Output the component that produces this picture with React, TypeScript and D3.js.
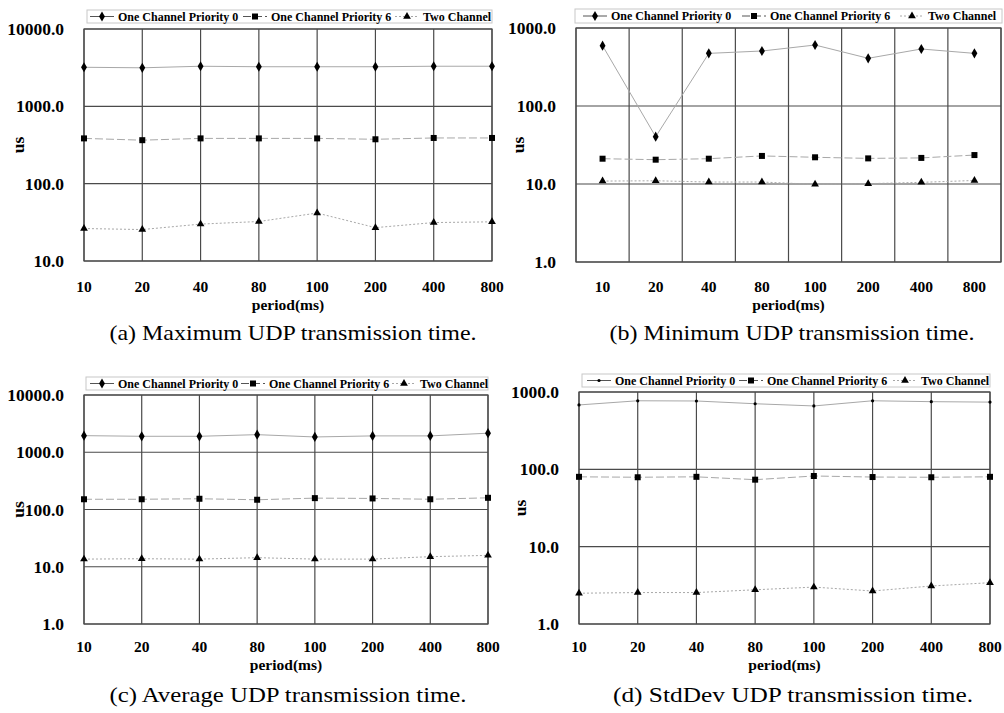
import React from 'react';
import * as d3 from 'd3';

// x categories (period in ms)
const periods = ['10', '20', '40', '80', '100', '200', '400', '800'];
const seriesNames = ['One Channel Priority 0', 'One Channel Priority 6', 'Two Channel'];

// (a) maximum
const maxP0 = [3200, 3150, 3300, 3250, 3250, 3250, 3300, 3300];
const maxP6 = [385, 365, 385, 385, 385, 375, 390, 390];
const maxTwo = [26.3, 25.5, 30, 32.4, 41.7, 27, 31.4, 32.1];
// (b) minimum
const minP0 = [593, 40.4, 473, 507, 605, 409, 538, 473];
const minP6 = [21.1, 20.5, 21.1, 22.9, 22, 21.3, 21.6, 23.5];
const minTwo = [10.9, 11.0, 10.6, 10.6, 9.9, 10.1, 10.5, 11.1];
// (c) average
const avgP0 = [1950, 1900, 1900, 2030, 1850, 1930, 1930, 2150];
const avgP6 = [151, 151, 154, 148, 158, 156, 151, 160];
const avgTwo = [13.6, 13.8, 13.6, 14.4, 13.6, 13.6, 15.0, 15.8];
// (d) std dev
const sdP0 = [680, 770, 765, 705, 660, 770, 750, 740];
const sdP6 = [80, 79, 80, 73.5, 82, 79.5, 79, 80];
const sdTwo = [2.5, 2.55, 2.55, 2.77, 3.0, 2.67, 3.1, 3.42];

const captions = [
  '(a) Maximum UDP transmission time.',
  '(b) Minimum UDP transmission time.',
  '(c) Average UDP transmission time.',
  '(d) StdDev UDP transmission time.',
];

const serif = 'Liberation Serif, serif';
const lineColor = '#a8a8a8';
const gridColor = '#4a4a4a';
const dashes = [null, '8,3', '2,2'];

const fmt = d3.format('.1f');

const Marker = ({ kind, x, y, small }) => {
  const types = [d3.symbolDiamond, d3.symbolSquare, d3.symbolTriangle];
  const sizes = [30, 36, 26];
  if (kind === 0 && small) return <circle cx={x} cy={y} r={1.6} fill="#000" />;
  const p = d3.symbol().type(types[kind]).size(sizes[kind])();
  return <path d={p} transform={`translate(${x},${y})`} fill="#000" />;
};

const Panel = ({ series, box, yDomain, band, legend, legendOffsets, tickY, periodY, captionY, captionX, captionText, captionW, usX, smallDot }) => {
  const { left, right, top, bottom } = box;
  const x = band
    ? d3.scaleBand().domain(periods).range([left, right]).padding(0)
    : d3.scalePoint().domain(periods).range([left, right]).padding(0);
  const xPos = d => (band ? x(d) + x.bandwidth() / 2 : x(d));
  const y = d3.scaleLog().domain(yDomain).range([bottom, top]);
  const yTicks = y.ticks().filter(t => Math.abs(Math.log10(t) % 1) < 1e-9);

  // vertical grid: at the points, or at band edges for the band panel
  const vLines = band ? periods.map(p => x(p)).concat([right]) : periods.map(p => x(p));

  const line = d3
    .line()
    .x((d, i) => xPos(periods[i]))
    .y(d => y(d));

  return (
    <g>
      {yTicks.map(t => (
        <line key={'h' + t} x1={left} x2={right} y1={y(t)} y2={y(t)} stroke={gridColor} strokeWidth={1.2} />
      ))}
      {vLines.map((v, i) => (
        <line key={'v' + i} x1={v} x2={v} y1={top} y2={bottom} stroke={gridColor} strokeWidth={1.2} />
      ))}
      <rect x={left} y={top} width={right - left} height={bottom - top} fill="none" stroke={gridColor} strokeWidth={1.2} />

      {yTicks.map(t => (
        <text key={'yl' + t} x={left - 20} y={y(t)} dy="0.35em" textAnchor="end" fontFamily={serif} fontWeight="bold" fontSize={17.5}>
          {fmt(t)}
        </text>
      ))}
      <text
        transform={`translate(${usX},${(top + bottom) / 2}) rotate(-90)`}
        textAnchor="middle"
        dy="0.35em"
        fontFamily={serif}
        fontWeight="bold"
        fontSize={17.5}
      >
        us
      </text>

      {periods.map(p => (
        <text key={'xl' + p} x={xPos(p)} y={tickY} textAnchor="middle" fontFamily={serif} fontWeight="bold" fontSize={15.5}>
          {p}
        </text>
      ))}
      <text x={(left + right) / 2} y={periodY} textAnchor="middle" fontFamily={serif} fontWeight="bold" fontSize={15.5}>
        period(ms)
      </text>

      {series.map((s, k) => (
        <g key={'s' + k}>
          <path d={line(s)} fill="none" stroke={lineColor} strokeWidth={1} strokeDasharray={dashes[k] || undefined} />
          {s.map((v, i) => (
            <Marker key={i} kind={k} x={xPos(periods[i])} y={y(v)} small={smallDot} />
          ))}
        </g>
      ))}

      <rect x={legend.x} y={legend.y} width={legend.w} height={legend.h} fill="#fff" stroke="#c8c8c8" strokeWidth={1} />
      {seriesNames.map((name, k) => {
        const lx = legend.x + legendOffsets[k];
        const cy = legend.y + legend.h / 2;
        return (
          <g key={'lg' + k}>
            <line x1={lx} x2={lx + 24} y1={cy} y2={cy} stroke={k === 2 ? lineColor : '#555'} strokeWidth={1} strokeDasharray={dashes[k] || undefined} />
            <Marker kind={k} x={lx + 12} y={cy} small={smallDot} />
            <text x={lx + 28} y={cy} dy="0.35em" fontFamily={serif} fontWeight="bold" fontSize={12}>
              {name}
            </text>
          </g>
        );
      })}

      <text x={captionX} y={captionY} textAnchor="middle" fontFamily={serif} fontSize={21} textLength={captionW} lengthAdjust="spacingAndGlyphs">
        {captionText}
      </text>
    </g>
  );
};

export default function App() {
  return (
    <svg width={1004} height={713} style={{ position: 'absolute', left: 0, top: 0, background: '#fff' }}>
      <Panel
        series={[maxP0, maxP6, maxTwo]}
        box={{ left: 84, right: 492, top: 29, bottom: 261 }}
        yDomain={[10, 10000]}
        band={false}
        legend={{ x: 87, y: 10, w: 405, h: 13 }}
        legendOffsets={[3, 156, 308]}
        tickY={292}
        periodY={310}
        captionY={340}
        captionX={293}
        captionText={captions[0]}
        captionW={367}
        usX={18}
      />
      <Panel
        series={[minP0, minP6, minTwo]}
        box={{ left: 576, right: 1001, top: 28, bottom: 262 }}
        yDomain={[1, 1000]}
        band={true}
        legend={{ x: 575, y: 9, w: 427, h: 14 }}
        legendOffsets={[8, 167, 325]}
        tickY={292}
        periodY={310}
        captionY={340}
        captionX={792}
        captionText={captions[1]}
        captionW={365}
        usX={518}
      />
      <Panel
        series={[avgP0, avgP6, avgTwo]}
        box={{ left: 84, right: 488, top: 395, bottom: 624 }}
        yDomain={[1, 10000]}
        band={false}
        legend={{ x: 86, y: 377, w: 402, h: 13 }}
        legendOffsets={[4, 155, 306]}
        tickY={652}
        periodY={670}
        captionY={702}
        captionX={288}
        captionText={captions[2]}
        captionW={357}
        usX={18}
      />
      <Panel
        series={[sdP0, sdP6, sdTwo]}
        box={{ left: 579, right: 990, top: 392, bottom: 624 }}
        yDomain={[1, 1000]}
        band={false}
        legend={{ x: 582, y: 374, w: 408, h: 13 }}
        legendOffsets={[5, 157, 311]}
        tickY={652}
        periodY={670}
        captionY={702}
        captionX={793}
        captionText={captions[3]}
        captionW={360}
        usX={520}
        smallDot={true}
      />
    </svg>
  );
}
